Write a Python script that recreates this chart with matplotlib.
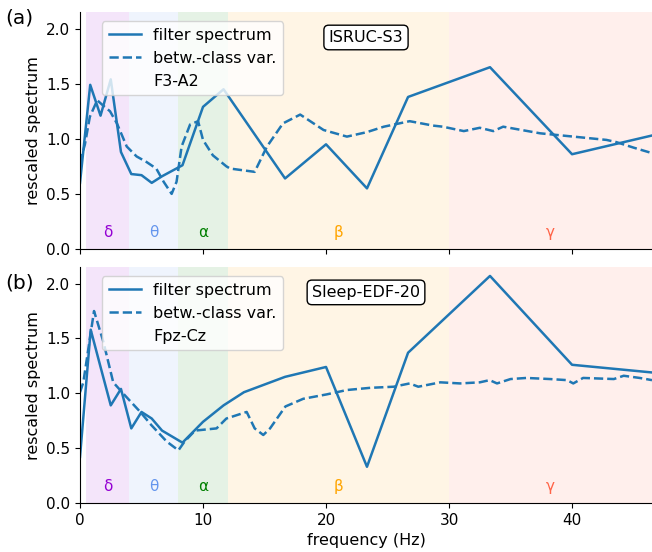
import numpy as np
import matplotlib
matplotlib.use("Agg")
import matplotlib.pyplot as plt

# filter spectrum (solid) and between-class variance (dashed)
isruc_f = [0, 0.83, 1.67, 2.5, 3.33, 4.17, 5.0, 5.83, 6.67, 7.5, 8.33, 10.0, 11.67,
           16.67, 20.0, 23.33, 26.67, 33.33, 40.0, 46.5]
isruc_s = [0.60, 1.49, 1.21, 1.54, 0.88, 0.68, 0.67, 0.60, 0.66, 0.71, 0.76, 1.29, 1.45,
           0.64, 0.95, 0.55, 1.38, 1.65, 0.86, 1.03]
isruc_vf = [0, 0.4, 0.8, 1.4, 1.9, 2.44, 3.0, 3.8, 4.6, 5.4, 6.2, 6.8, 7.45, 7.85, 8.26,
            8.95, 9.6, 10.0, 10.8, 11.9, 12.2, 14.2, 15.2, 16.5, 17.9, 19.8, 21.7, 23.3,
            24.7, 26.8, 28.7, 29.5, 31.2, 32.5, 33.6, 34.4, 37.4, 40.1, 42.8, 43.6, 45.0, 46.5]
isruc_v = [0.78, 0.95, 1.20, 1.35, 1.30, 1.25, 1.14, 0.93, 0.84, 0.79, 0.73, 0.61, 0.50,
           0.61, 0.93, 1.13, 1.16, 0.99, 0.85, 0.75, 0.73, 0.70, 0.93, 1.14, 1.22, 1.08,
           1.02, 1.06, 1.11, 1.16, 1.12, 1.11, 1.07, 1.10, 1.07, 1.11, 1.05, 1.02, 0.99,
           0.97, 0.92, 0.87]

sleep_f = [0, 0.87, 1.67, 2.5, 3.33, 4.17, 5.0, 5.83, 6.67, 8.33, 10.0, 11.67, 13.33,
           16.67, 20.0, 23.33, 26.67, 33.33, 40.0, 46.5]
sleep_s = [0.42, 1.58, 1.24, 0.89, 1.04, 0.68, 0.83, 0.77, 0.66, 0.55, 0.74, 0.89, 1.01,
           1.15, 1.24, 0.33, 1.37, 2.07, 1.26, 1.19]
sleep_vf = [0, 0.27, 1.14, 1.9, 2.7, 3.66, 4.9, 5.8, 7.05, 8.0, 8.5, 9.35, 11.1, 11.9,
            13.55, 14.2, 14.9, 15.45, 16.7, 18.15, 20.05, 21.7, 23.6, 25.5, 26.8, 27.5,
            29.3, 30.9, 32.5, 33.3, 33.9, 35.0, 36.3, 38.2, 39.6, 40.1, 40.9, 43.4, 44.2,
            45.5, 46.5]
sleep_v = [1.01, 1.10, 1.75, 1.47, 1.10, 0.98, 0.83, 0.71, 0.56, 0.48, 0.56, 0.66, 0.68,
           0.77, 0.83, 0.68, 0.62, 0.68, 0.88, 0.95, 0.99, 1.03, 1.05, 1.06, 1.09, 1.06,
           1.10, 1.09, 1.10, 1.12, 1.09, 1.13, 1.14, 1.13, 1.12, 1.09, 1.14, 1.13, 1.16,
           1.14, 1.12]

band_names = ["δ", "θ", "α", "β", "γ"]
band_lims = [(0.5, 4), (4, 8), (8, 12), (12, 30), (30, 50)]
band_colors = ["darkviolet", "cornflowerblue", "green", "orange", "tomato"]

datasets = ["ISRUC-S3", "Sleep-EDF-20"]
channels = ["F3-A2", "Fpz-Cz"]
panel_labels = ["(a)", "(b)"]

plt.rcParams["font.size"] = 11.5
plt.rcParams["xtick.labelsize"] = 11
plt.rcParams["ytick.labelsize"] = 11

fig = plt.figure(figsize=(6.52, 5.52), dpi=100)
ax_top = fig.add_axes([0.1227, 0.549, 0.8773, 0.429])
ax_bot = fig.add_axes([0.1227, 0.0888, 0.8773, 0.4272])

series = [(isruc_f, isruc_s, isruc_vf, isruc_v), (sleep_f, sleep_s, sleep_vf, sleep_v)]

for i, ax in enumerate([ax_top, ax_bot]):
    f, s, vf, v = series[i]

    for name, (lo, hi), c in zip(band_names, band_lims, band_colors):
        ax.axvspan(lo, hi, color=c, alpha=0.1, lw=0)
        ax.text((lo + min(hi, 46.5)) / 2, 0.15, name, color=c, ha="center",
                va="center", fontsize=11)

    ax.plot(f, s, color="tab:blue", lw=1.8, label="filter spectrum")
    ax.plot(vf, v, color="tab:blue", lw=1.8, ls="--", label="betw.-class var.")
    ax.plot([], [], " ", label=channels[i])

    ax.set_xlim(0, 46.5)
    ax.set_ylim(0, 2.15)
    ax.set_xticks([0, 10, 20, 30, 40])
    ax.set_yticks([0.0, 0.5, 1.0, 1.5, 2.0])
    ax.set_ylabel("rescaled spectrum")
    ax.spines["top"].set_visible(False)
    ax.spines["right"].set_visible(False)

    ax.legend(loc="upper left", bbox_to_anchor=(0.025, 0.995))
    ax.text(0.5, 0.893, datasets[i], transform=ax.transAxes, ha="center", va="center",
            bbox=dict(boxstyle="round,pad=0.3", fc="white", ec="black"))

ax_top.set_xticklabels([])
ax_bot.set_xlabel("frequency (Hz)")

fig.text(0.008, 0.968, panel_labels[0], fontsize=14.5, va="center")
fig.text(0.008, 0.488, panel_labels[1], fontsize=14.5, va="center")

fig.savefig("out.png", dpi=100)
